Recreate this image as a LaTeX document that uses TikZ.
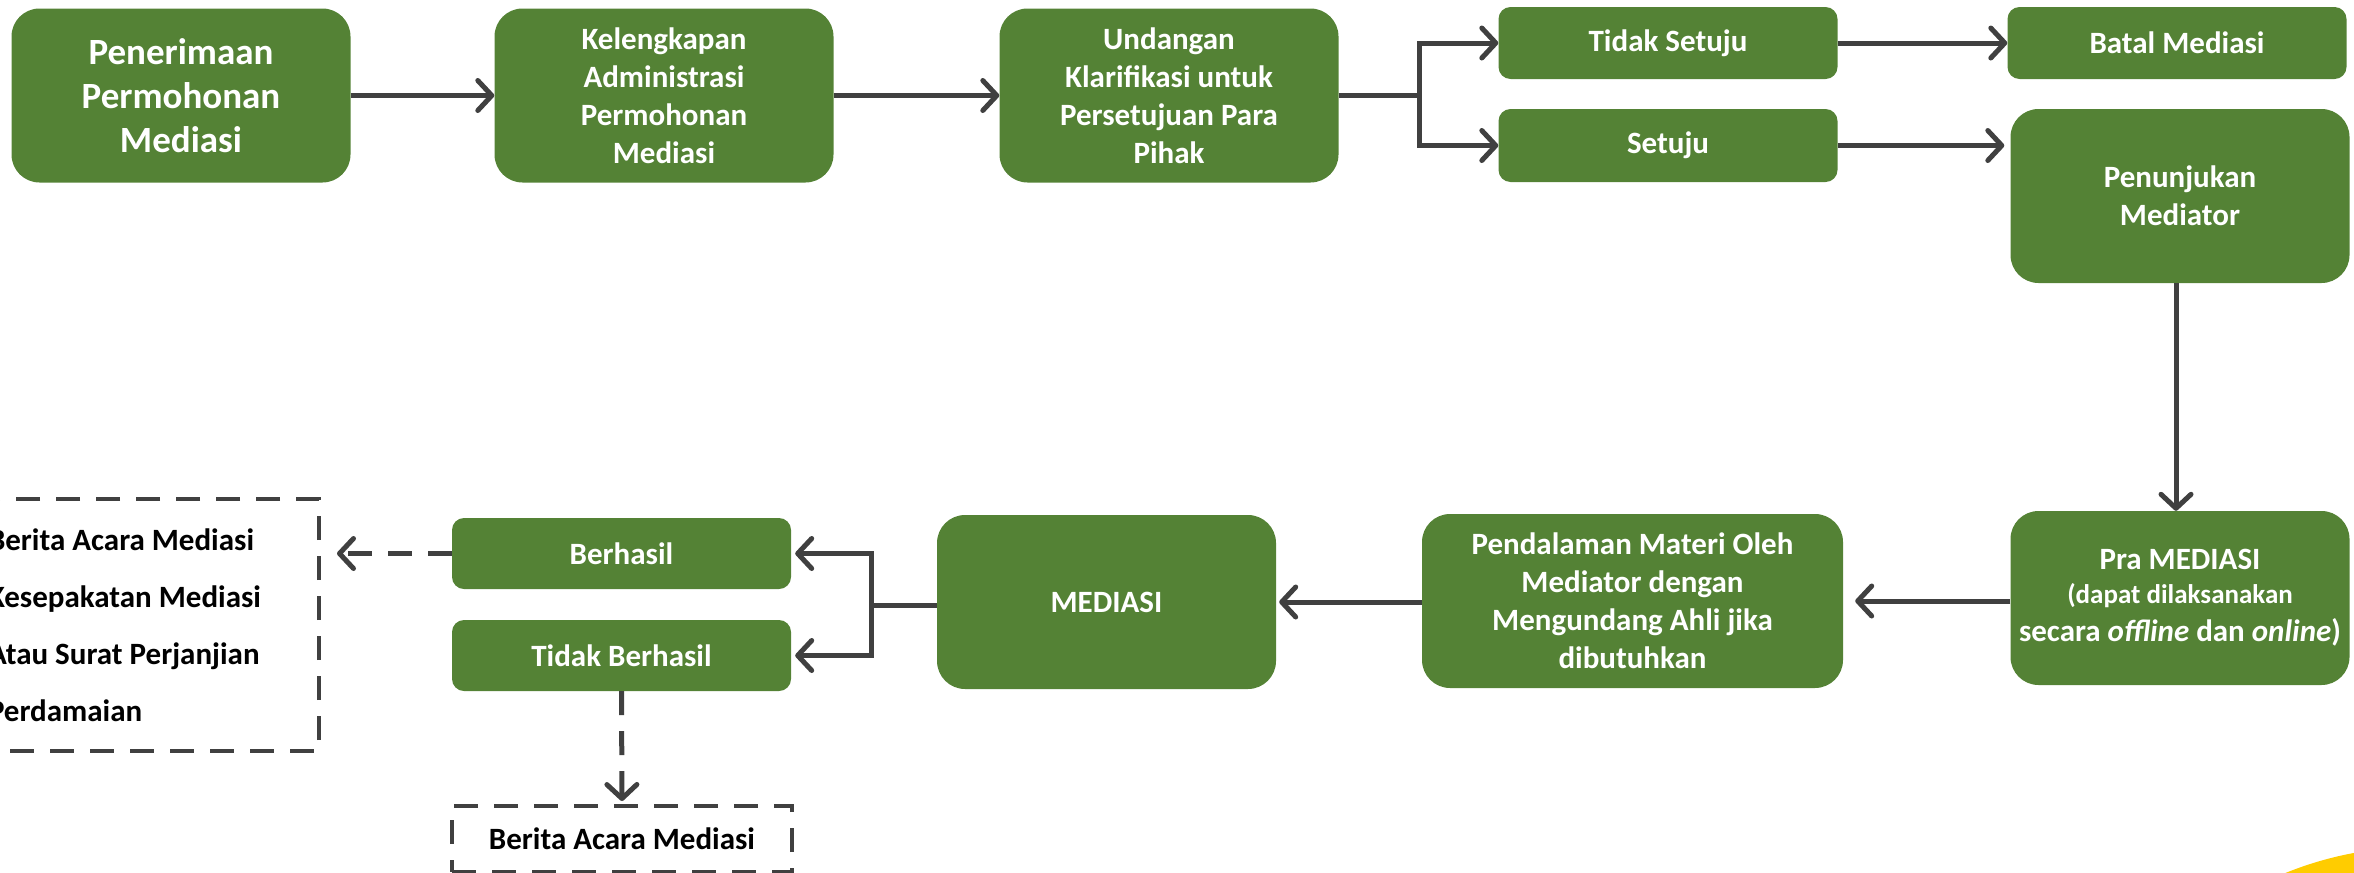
\documentclass[tikz,border=0pt]{standalone}
\usepackage{fontspec}
\setmainfont{Carlito}
\usetikzlibrary{positioning}
\usetikzlibrary{arrows.meta}
\definecolor{boxgreen}{HTML}{548235}
\definecolor{linegray}{HTML}{404040}
\definecolor{sunyellow}{HTML}{FFCC00}
\tikzset{
    bigbox/.style={rectangle, rounded corners=28pt, fill=boxgreen, text=white,
		font=\bfseries\fontsize{31}{38}\selectfont, align=center,
		minimum width=339pt, minimum height=174pt, inner sep=0pt}
}
\tikzset{
    smallbox/.style={bigbox, rounded corners=12pt, minimum height=72pt}
}
\tikzset{
    dashbox/.style={rectangle, draw=linegray, line width=4pt, dash pattern=on 24pt off 16pt,
		text=black, font=\bfseries\fontsize{31}{38}\selectfont, inner sep=0pt}
}
\tikzset{
    arr/.style={draw=linegray, line width=5pt, -{Straight Barb[length=14pt,width=30pt,round]}},
    dasharr/.style={arr, dash pattern=on 24pt off 16pt}
}
\begin{document}
\begin{tikzpicture}[x=1pt,y=-1pt]
			\useasboundingbox (0,0) rectangle (2354,873);
			\clip (0,0) rectangle (2354,873);
			\fill[sunyellow] (2419,1202) circle (355pt);
			% top row
			\node[bigbox, font=\bfseries\fontsize{37}{44}\selectfont] (pen) at (181,95.5) {Penerimaan\\Permohonan\\Mediasi};
			\node[bigbox] (kel) at (664,95.5) {Kelengkapan\\Administrasi\\Permohonan\\Mediasi};
			\node[bigbox] (und) at (1169,95.5) {Undangan\\Klarifikasi untuk\\Persetujuan Para\\Pihak};
			\node[smallbox] (tidak) at (1668,43) {Tidak Setuju};
			\node[smallbox, minimum height=73pt] (setuju) at (1668,145.5) {Setuju};
			\node[smallbox] (batal) at (2177,43) {Batal Mediasi};
			\node[bigbox] (tunjuk) at (2180,196) {Penunjukan\\Mediator};
			% bottom row
			\node[bigbox] (pra) at (2180,598) {Pra MEDIASI\\[-4pt]\fontsize{27}{35}\selectfont(dapat dilaksanakan\\secara \textit{offline} dan \textit{online})};
			\node[bigbox, minimum width=421pt] (pend) at (1632.5,601) {Pendalaman Materi Oleh\\Mediator dengan\\Mengundang Ahli jika\\dibutuhkan};
			\node[bigbox] (med) at (1106.5,602) {MEDIASI};
			\node[smallbox, minimum height=71pt] (hasil) at (621.5,553.5) {Berhasil};
			\node[smallbox, minimum height=71pt] (gagal) at (621.5,655.5) {Tidak Berhasil};
			\node[dashbox, minimum width=349pt, minimum height=252pt, align=flush left, text width=313pt,
				inner xsep=18pt, font=\bfseries\fontsize{31}{57}\selectfont] (hasilbox) at (144.5,625)
				{Berita Acara Mediasi\\Kesepakatan Mediasi\\Atau Surat Perjanjian\\Perdamaian};
			\node[dashbox, minimum width=340pt, minimum height=66pt] (berita) at (622,839) {Berita Acara Mediasi};
			\coordinate (split1) at (1419,95.5);
			\coordinate (split2) at (871,605);
			\draw[arr] (pen) -- (kel);
			\draw[arr] (kel) -- (und);
			\draw[arr] (und.east) -- (split1) |- (tidak.west);
			\draw[arr] (split1) |- (setuju.west);
			\draw[arr] (tidak) -- (batal);
			\draw[arr, shorten >=6pt] (setuju.east) -- (setuju.east -| tunjuk.west);
			\draw[arr] (tunjuk.south -| 2176,0) -- (pra.north -| 2176,0);
			\draw[arr, shorten >=12pt] (pend.east -| pra.west) -- (pend.east);
			\draw[arr, shorten >=3pt] (pend.west |- med) -- (med.east);
			\draw[arr, shorten >=4pt] (med.west |- split2) -- (split2) |- (hasil.east);
			\draw[arr, shorten >=4pt] (split2) |- (gagal.east);
			\draw[dasharr, shorten >=16pt] (hasil.west) -- (hasilbox.east |- hasil.west);
			\draw[dasharr, shorten >=3pt] (gagal.south) -- (berita.north);
\end{tikzpicture}
\end{document}
